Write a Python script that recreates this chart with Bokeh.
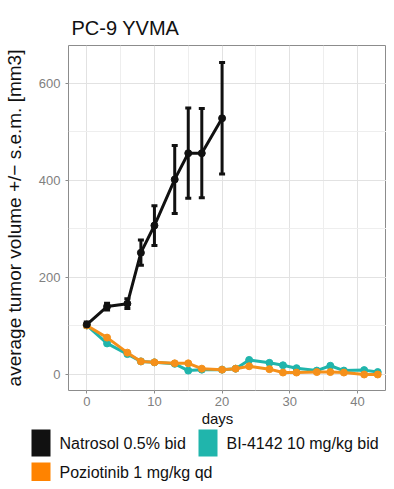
from bokeh.plotting import figure
from bokeh.layouts import column
from bokeh.models import (ColumnDataSource, Whisker, TeeHead, FixedTicker, Range1d)
from bokeh.core.properties import value
from bokeh.embed import file_html
from bokeh.resources import INLINE

# ---- data ----
nat_days = [0, 3, 6, 8, 10, 13, 15, 17, 20]
nat_mean = [103, 140, 146, 251, 307, 402, 456, 456, 528]
nat_sem = [5, 7, 10, 26, 41, 70, 93, 92, 115]

trt_days = [0, 3, 6, 8, 10, 13, 15, 17, 20, 22, 24, 27, 29, 31, 34, 36, 38, 41, 43]
bi_mean = [101, 64, 42, 27, 25, 22, 8, 10, 10, 12, 30, 24, 19, 13, 8, 18, 8, 9, 5]
poz_mean = [101, 76, 45, 27, 25, 23, 23, 12, 10, 12, 17, 11, 4, 4, 5, 5, 4, 0, 0]

x_ticks = [0, 10, 20, 30, 40]
x_minor = [5, 15, 25, 35]
y_ticks = [0, 200, 400, 600]
y_minor = [100, 300, 500]

labels = ["Natrosol 0.5% bid", "BI-4142 10 mg/kg bid", "Poziotinib 1 mg/kg qd"]
x_title = "days"
c_nat = "#111111"
c_bi = "#20B5AC"
c_poz = "#F5901A"
c_poz_key = "#FF8300"
key_colors = [c_nat, c_bi, c_poz_key]

FONT = "Liberation Sans"

p = figure(width=386, height=410, output_backend="svg", toolbar_location=None,
           x_range=Range1d(-2.7, 44.3), y_range=Range1d(-33, 678),
           min_border_left=62, min_border_right=0, min_border_top=45,
           min_border_bottom=20)

p.title.text = "PC-9 YVMA"
p.title.text_font = FONT
p.title.text_font_size = "20px"
p.title.text_font_style = "normal"
p.title.text_color = "#111111"
p.title.align = "left"
p.title.standoff = 13
p.title.offset = 3

p.background_fill_color = "white"
p.border_fill_color = "white"
p.outline_line_color = "#8c8c8c"
p.outline_line_width = 1

for ax in (p.xaxis[0], p.yaxis[0]):
    ax.axis_line_color = None
    ax.major_tick_line_color = "#8c8c8c"
    ax.major_tick_in = 0
    ax.major_tick_out = 3
    ax.minor_tick_line_color = None
    ax.major_label_text_font = FONT
    ax.major_label_text_font_size = "13px"
    ax.major_label_text_color = "#808080"
    ax.axis_label_text_font = FONT
    ax.axis_label_text_font_style = "normal"
    ax.axis_label_text_color = "#111111"

p.xaxis.ticker = FixedTicker(ticks=x_ticks, minor_ticks=x_minor)
p.yaxis.ticker = FixedTicker(ticks=y_ticks, minor_ticks=y_minor)
p.xaxis.major_label_standoff = 2
p.yaxis.axis_label = "average tumor volume +/\u2212 s.e.m. [mm3]"
p.yaxis.axis_label_text_font_size = "19px"
p.yaxis.major_label_standoff = 4
p.yaxis.axis_label_standoff = 11

for g in (p.xgrid[0], p.ygrid[0]):
    g.grid_line_color = "#e2e2e2"
    g.grid_line_width = 1
    g.minor_grid_line_color = "#eeeeee"
    g.minor_grid_line_width = 1

# ---- series ----
bi_src = ColumnDataSource(dict(x=trt_days, y=bi_mean))
poz_src = ColumnDataSource(dict(x=trt_days, y=poz_mean))
nat_src = ColumnDataSource(dict(
    x=nat_days, y=nat_mean,
    lo=[m - s for m, s in zip(nat_mean, nat_sem)],
    hi=[m + s for m, s in zip(nat_mean, nat_sem)]))

p.line("x", "y", source=bi_src, color=c_bi, line_width=3)
p.scatter("x", "y", source=bi_src, color=c_bi, size=7)
p.line("x", "y", source=poz_src, color=c_poz, line_width=3)
p.scatter("x", "y", source=poz_src, color=c_poz, size=7)

w = Whisker(base="x", lower="lo", upper="hi", source=nat_src,
            line_color=c_nat, line_width=3,
            upper_head=TeeHead(size=6, line_color=c_nat, line_width=3),
            lower_head=TeeHead(size=6, line_color=c_nat, line_width=3))
p.add_layout(w)
p.line("x", "y", source=nat_src, color=c_nat, line_width=3)
p.scatter("x", "y", source=nat_src, color=c_nat, size=7)

# ---- strip below the chart: x-axis title and legend (pixel layout units) ----
LW, LH = 386, 71
lf = figure(width=LW, height=LH, output_backend="svg", toolbar_location=None,
            x_range=Range1d(0, LW), y_range=Range1d(LH, 0),
            min_border_left=0, min_border_right=0, min_border_top=0,
            min_border_bottom=0)
for fig in (p, lf):
    try:
        fig.frame_align = False
    except Exception:
        pass
lf.axis.visible = False
lf.grid.visible = False
lf.outline_line_color = None
lf.background_fill_color = "white"
lf.border_fill_color = "white"

# axis title
lf.text(x=[217], y=[8], text=[x_title], text_font=value(FONT),
        text_font_size="15px", text_color="#111111",
        text_align="center", text_baseline="middle")

# legend layout: key left, row top, label centre line per item
key_w, key_h = 19, 27
item_left = [31, 198, 31]
row_top = [19, 19, 52]
label_mid = [32.5, 32.5, 61.5]
lf.quad(left=item_left,
        right=[l + key_w for l in item_left],
        top=row_top,
        bottom=[t + key_h for t in row_top],
        fill_color=key_colors, line_color=None)
lf.text(x=[l + key_w + 9 for l in item_left],
        y=label_mid,
        text=labels, text_font=value(FONT), text_font_size="16px",
        text_color="#111111", text_align="left", text_baseline="middle")

layout = column(p, lf, spacing=0)
open("out.html", "w").write(file_html(layout, INLINE))
